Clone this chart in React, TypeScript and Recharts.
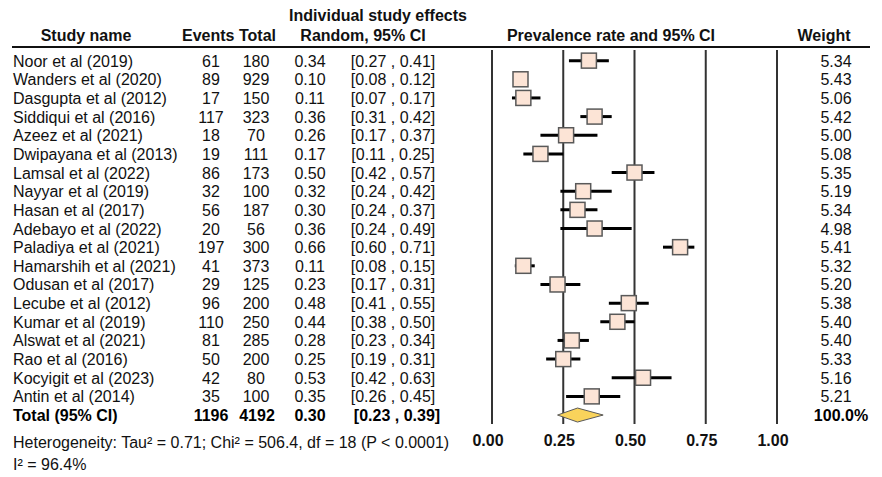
import React from "react";
import { ScatterChart, Scatter, XAxis, YAxis, ErrorBar, ReferenceLine } from "recharts";

const studies = [
  "Noor et al (2019)",
  "Wanders et al (2020)",
  "Dasgupta et al (2012)",
  "Siddiqui et al (2016)",
  "Azeez et al (2021)",
  "Dwipayana et al (2013)",
  "Lamsal et al (2022)",
  "Nayyar et al (2019)",
  "Hasan et al (2017)",
  "Adebayo et al (2022)",
  "Paladiya et al (2021)",
  "Hamarshih et al (2021)",
  "Odusan et al (2017)",
  "Lecube et al (2012)",
  "Kumar et al (2019)",
  "Alswat et al (2021)",
  "Rao et al (2016)",
  "Kocyigit et al (2023)",
  "Antin et al (2014)",
];
const events = [61, 89, 17, 117, 18, 19, 86, 32, 56, 20, 197, 41, 29, 96, 110, 81, 50, 42, 35];
const totals = [180, 929, 150, 323, 70, 111, 173, 100, 187, 56, 300, 373, 125, 200, 250, 285, 200, 80, 100];
const rates = [0.34, 0.1, 0.11, 0.36, 0.26, 0.17, 0.5, 0.32, 0.3, 0.36, 0.66, 0.11, 0.23, 0.48, 0.44, 0.28, 0.25, 0.53, 0.35];
const lower = [0.27, 0.08, 0.07, 0.31, 0.17, 0.11, 0.42, 0.24, 0.24, 0.24, 0.6, 0.08, 0.17, 0.41, 0.38, 0.23, 0.19, 0.42, 0.26];
const upper = [0.41, 0.12, 0.17, 0.42, 0.37, 0.25, 0.57, 0.42, 0.37, 0.49, 0.71, 0.15, 0.31, 0.55, 0.5, 0.34, 0.31, 0.63, 0.45];
const weights = ["5.34", "5.43", "5.06", "5.42", "5.00", "5.08", "5.35", "5.19", "5.34", "4.98", "5.41", "5.32", "5.20", "5.38", "5.40", "5.40", "5.33", "5.16", "5.21"];

const pooledEvents = 1196;
const pooledTotal = 4192;
const pooledRate = 0.3;
const pooledLower = 0.23;
const pooledUpper = 0.39;
const pooledWeight = "100.0%";

const xTicks = [0, 0.25, 0.5, 0.75, 1];

const FONT = '"Liberation Sans", Arial, Helvetica, sans-serif';
const FS = 16;

const rows = studies.map((name, i) => ({
  name,
  events: events[i],
  total: totals[i],
  x: rates[i],
  y: i,
  lo: lower[i],
  hi: upper[i],
  err: [rates[i] - lower[i], upper[i] - rates[i]],
  weight: weights[i],
}));

const totalRow = studies.length;
const diamond = [
  { x: pooledLower, y: totalRow, mid: false },
  { x: pooledRate, y: totalRow, mid: true },
  { x: pooledUpper, y: totalRow, mid: false },
];

const ci = (lo: number, hi: number) => `[${lo.toFixed(2)} , ${hi.toFixed(2)}]`;

function StudyShape(props: any) {
  const { cx, cy, payload } = props;
  const s = 15;
  const ty = cy + 6;
  return (
    <g>
      <rect x={cx - s / 2} y={cy - s / 2} width={s} height={s} fill="#FCE4D6" stroke="#595959" strokeWidth={1.5} />
      <g fontFamily={FONT} fontSize={FS} fill="#111">
        <text x={13} y={ty}>{payload.name}</text>
        <text x={211} y={ty} textAnchor="middle">{payload.events}</text>
        <text x={256} y={ty} textAnchor="middle">{payload.total}</text>
        <text x={310} y={ty} textAnchor="middle">{payload.x.toFixed(2)}</text>
        <text x={393} y={ty} textAnchor="middle">{ci(payload.lo, payload.hi)}</text>
        <text x={836} y={ty} textAnchor="middle">{payload.weight}</text>
      </g>
    </g>
  );
}

function TotalShape(props: any) {
  const { cy, payload } = props;
  if (!payload.mid) return <g />;
  const ty = cy + 6;
  return (
    <g fontFamily={FONT} fontSize={FS} fontWeight="bold" fill="#000">
      <text x={13} y={ty}>Total (95% CI)</text>
      <text x={211} y={ty} textAnchor="middle">{pooledEvents}</text>
      <text x={257} y={ty} textAnchor="middle">{pooledTotal}</text>
      <text x={310} y={ty} textAnchor="middle">{pooledRate.toFixed(2)}</text>
      <text x={397} y={ty} textAnchor="middle">{ci(pooledLower, pooledUpper)}</text>
      <text x={841} y={ty} textAnchor="middle">{pooledWeight}</text>
    </g>
  );
}

function DiamondLine(props: any) {
  const pts = props.points || [];
  if (pts.length < 3) return <g />;
  const [a, m, b] = pts;
  const h = 7;
  const d = `${a.x},${a.y} ${m.x},${m.y - h} ${b.x},${b.y} ${m.x},${m.y + h}`;
  return <polygon points={d} fill="#F9D35B" stroke="#5a5a5a" strokeWidth={1} />;
}

const textStyle: React.CSSProperties = {
  position: "absolute",
  fontFamily: FONT,
  fontSize: FS,
  lineHeight: "20px",
  whiteSpace: "nowrap",
  color: "#111",
};

function Label({ cx, left, top, bold, children }: any) {
  const style: React.CSSProperties = { ...textStyle, top: top - 10, fontWeight: bold ? "bold" : "normal" };
  if (cx !== undefined) {
    style.left = cx;
    style.transform = "translateX(-50%)";
  } else {
    style.left = left;
  }
  return <div style={style}>{children}</div>;
}

export default function App() {
  return (
    <div style={{ position: "absolute", left: 0, top: 0, width: 882, height: 477, background: "#fff" }}>
      <Label cx={378} top={16} bold>Individual study effects</Label>
      <Label cx={86} top={36} bold>Study name</Label>
      <Label cx={229} top={36} bold>Events Total</Label>
      <Label cx={363} top={36} bold>Random, 95% CI</Label>
      <Label cx={611} top={36} bold>Prevalence rate and 95% CI</Label>
      <Label cx={824} top={36} bold>Weight</Label>
      <div style={{ position: "absolute", left: 12, top: 46, width: 858, height: 2, background: "#111" }} />

      <ScatterChart width={882} height={477} margin={{ top: 50, right: 105, bottom: 23, left: 492 }}>
        <XAxis
          type="number"
          dataKey="x"
          domain={[0, 1]}
          ticks={xTicks}
          axisLine={false}
          tickLine={false}
          tickMargin={5}
          tickFormatter={(v: number) => v.toFixed(2)}
          tick={{ fontFamily: FONT, fontSize: FS, fontWeight: "bold", fill: "#111", dx: -4 }}
        />
        <YAxis type="number" dataKey="y" domain={[-0.57, 19.48]} reversed hide />
        {xTicks.map((t) => (
          <ReferenceLine key={t} x={t} stroke="#333" strokeWidth={2} />
        ))}
        <Scatter data={rows} shape={<StudyShape />} isAnimationActive={false}>
          <ErrorBar dataKey="err" direction="x" width={0} stroke="#000" strokeWidth={3} />
        </Scatter>
        <Scatter data={diamond} shape={<TotalShape />} line={DiamondLine} isAnimationActive={false} />
      </ScatterChart>

      <Label left={13} top={443}>Heterogeneity: Tau² = 0.71; Chi² = 506.4, df = 18 (P &lt; 0.0001)</Label>
      <Label left={13} top={465}>I² = 96.4%</Label>
    </div>
  );
}
